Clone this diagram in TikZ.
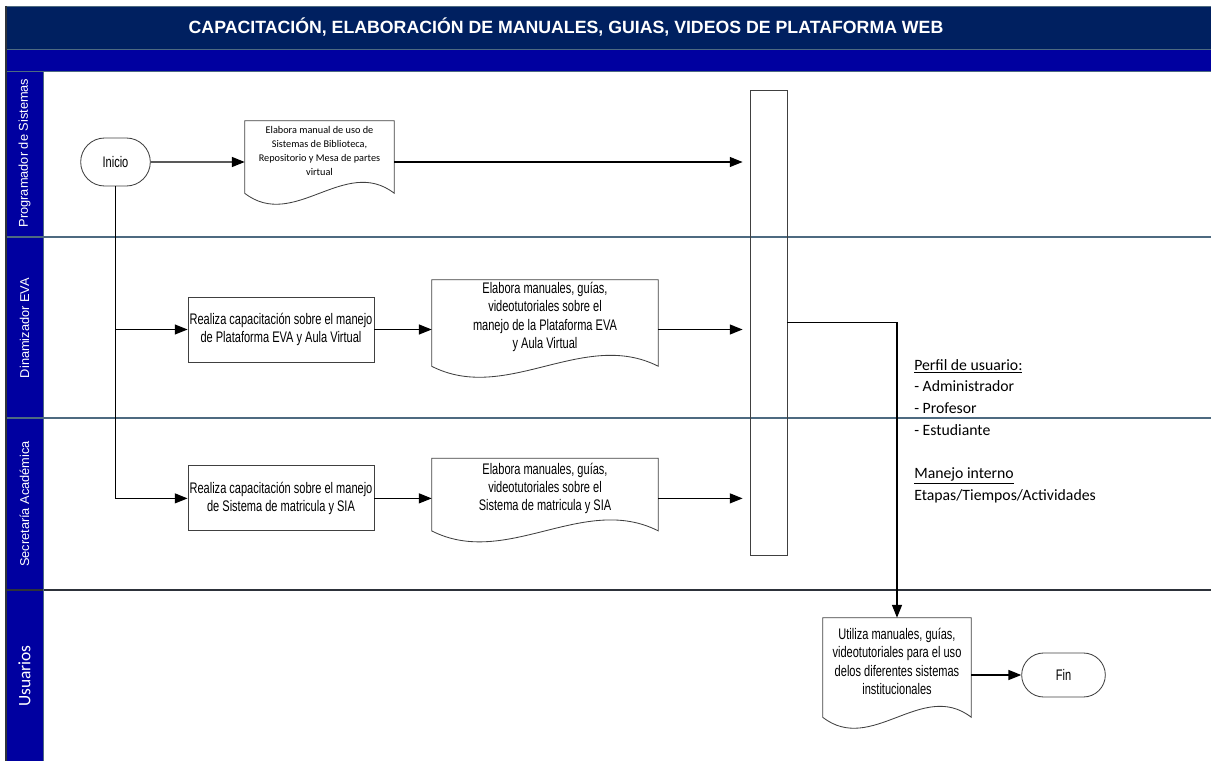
\documentclass[tikz,border=0pt]{standalone}
\usepackage{fontspec}
\setmainfont{Liberation Sans}
\newfontfamily\narrowfont[FakeStretch=0.72]{Liberation Sans}
\newfontfamily\calfont{Carlito}
\usetikzlibrary{arrows.meta, positioning, calc, shapes.misc}

\definecolor{azultitulo}{RGB}{0,32,96}
\definecolor{azulcarril}{RGB}{0,0,160}
\definecolor{separa}{RGB}{77,106,128}
\definecolor{oscuro}{RGB}{45,50,58}
\definecolor{borde}{RGB}{64,64,64}

% documento con borde inferior ondulado
\newcommand{\docshape}[1]{%
  \draw[borde, line width=0.6pt] (#1.north west) -- (#1.north east) -- ($(#1.south east)+(0,12)$)
    .. controls ($(#1.south east)!0.33!(#1.south west)+(0,-26)$) and ($(#1.south west)!0.33!(#1.south east)+(0,50)$) .. ($(#1.south west)+(0,12)$) -- cycle;}

\begin{document}
\begin{tikzpicture}[
    x=0.025cm, y=-0.025cm,
    caja/.style={rectangle, draw=borde, line width=0.6pt, fill=white, minimum width=4.65cm, minimum height=1.625cm, align=center, inner sep=1pt, font=\narrowfont\fontsize{10.9}{13}\selectfont},
    doc/.style={rectangle, align=center, inner sep=1pt, font=\narrowfont\fontsize{10.9}{13}\selectfont},
    term/.style={rounded rectangle, draw=borde, line width=0.6pt, align=center, font=\narrowfont\fontsize{10.9}{13}\selectfont},
    etiqueta/.style={rotate=90, text=white, font=\fontsize{9.1}{11}\selectfont},
    flecha/.style={-{Triangle[length=3.2mm, width=2.5mm]}, line width=0.8pt, black}
]
\useasboundingbox (0,0) rectangle (1211,761);

% fondo y carriles
\fill[azultitulo] (6,6) rectangle (1211,49);
\fill[azulcarril] (6,49) rectangle (1211,71);
\fill[azulcarril] (6,71) rectangle (43,761);
\draw[separa, line width=0.7pt] (6,6) -- (1211,6);
\draw[separa, line width=0.7pt] (6,49) -- (1211,49);
\draw[separa, line width=0.7pt] (6,71) -- (1211,71);
\draw[separa, line width=0.9pt] (6,237) -- (1211,237);
\draw[separa, line width=0.9pt] (6,418) -- (1211,418);
\draw[oscuro, line width=1pt] (6,590) -- (1211,590);
\draw[separa, line width=0.6pt] (43,71) -- (43,761);
\draw[oscuro, line width=0.8pt] (6,6) -- (6,761);

% titulo
\node[text=white, font=\bfseries\fontsize{12.6}{15}\selectfont] (titulo) at (566,27.5) {CAPACITACIÓN, ELABORACIÓN DE MANUALES, GUIAS, VIDEOS DE PLATAFORMA WEB};

% nombres de carriles
\node[etiqueta] (prog) at (24.5,153) {Programador de Sistemas};
\node[etiqueta] (dina) at (24.5,328) {Dinamizador EVA};
\node[etiqueta] (secre) at (24.5,504) {Secretaría Académica};
\node[etiqueta, font=\calfont\fontsize{12.4}{15}\selectfont] (usu) at (24.5,676) {Usuarios};

% Inicio
\node[term, minimum width=1.975cm, minimum height=1.2cm] (ini) at (115.5,162) {Inicio};

% manual de sistemas
\node[doc, minimum width=3.725cm, minimum height=1.5cm, font=\calfont\fontsize{7.3}{10}\selectfont] (doc1) at (319.5,151) {Elabora manual de uso de\\Sistemas de Biblioteca,\\Repositorio y Mesa de partes\\virtual};
\docshape{doc1}

% capacitaciones
\node[caja] (cap1) at (281,329.5) {Realiza capacitación sobre el manejo\\de Plataforma EVA y Aula Virtual};
\node[caja, below=2.575cm of cap1] (cap2) {Realiza capacitación sobre el manejo\\de Sistema de matricula y SIA};

% manuales y guias
\node[doc, minimum width=5.65cm, minimum height=1.85cm] (doc2) at (545,317) {Elabora manuales, guías,\\videotutoriales sobre el\\manejo de la Plataforma EVA\\y Aula Virtual};
\docshape{doc2}
\node[doc, minimum width=5.65cm, minimum height=1.5cm, below=2.6cm of doc2] (doc3) {Elabora manuales, guías,\\videotutoriales sobre el\\Sistema de matricula y SIA};
\docshape{doc3}

% barra de union
\node[rectangle, draw=borde, line width=0.6pt, minimum width=0.925cm, minimum height=11.625cm, inner sep=0pt] (barra) at (768.5,322.5) {};

% usuarios
\node[doc, minimum width=3.7cm, minimum height=2.175cm] (util) at (897,661.5) {Utiliza manuales, guías,\\videotutoriales para el uso\\delos diferentes sistemas\\institucionales};
\docshape{util}
\node[term, minimum width=2.325cm, minimum height=1.1cm] (fin) at (1063.5,675) {Fin};

% nota
\node[anchor=north west, inner sep=0pt, align=left, font=\calfont\fontsize{11.2}{15.4}\selectfont] (perfil) at (914,359) {\underline{Perfil de usuario:}\\- Administrador\\- Profesor\\- Estudiante\\[15.4pt]\underline{Manejo interno}\\Etapas/Tiempos/Actividades};

% flechas
\draw[flecha] (ini) -- (ini -| doc1.west);
\draw[flecha, shorten >=1.75mm] (doc1.east |- ini) -- (barra.west |- ini);
\draw[flecha] (ini.south) |- (cap1.west);
\draw[flecha] (ini.south) |- (cap2.west);
\draw[flecha] (cap1.east) -- (cap1.east -| doc2.west);
\draw[flecha, shorten >=1.75mm] (doc2.east |- cap1) -- (barra.west |- cap1);
\draw[flecha] (cap2.east) -- (cap2.east -| doc3.west);
\draw[flecha, shorten >=1.75mm] (doc3.east |- cap2) -- (barra.west |- cap2);
\draw[flecha] (barra.east) -| (util.north);
\draw[flecha] (fin -| util.east) -- (fin.west);

\end{tikzpicture}
\end{document}
